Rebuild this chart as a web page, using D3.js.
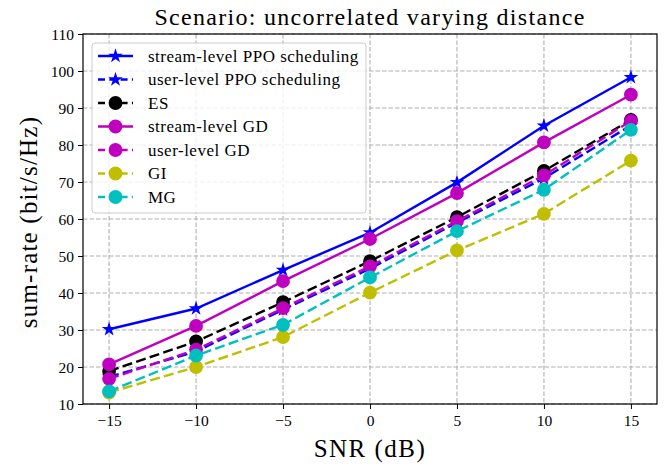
<!DOCTYPE html>
<html>
<head>
<meta charset="utf-8">
<script src="https://cdn.jsdelivr.net/npm/d3@7"></script>
<style>
  body { margin: 0; background: #fff; }
  text { font-family: "Liberation Serif", "DejaVu Serif", serif; }
</style>
</head>
<body>
<div id="chart"></div>
<script>
var snr = [-15, -10, -5, 0, 5, 10, 15];
var streamPPO = [30.2, 35.8, 46.2, 56.3, 69.9, 85.2, 98.3];
var userPPO   = [17.3, 24.2, 35.5, 46.6, 59.0, 71.0, 85.3];
var es        = [18.9, 26.9, 37.5, 48.6, 60.5, 73.0, 86.8];
var streamGD  = [20.7, 31.1, 43.2, 54.6, 67.0, 80.7, 93.6];
var userGD    = [16.8, 24.7, 35.9, 47.2, 59.4, 71.8, 86.5];
var gi        = [13.1, 20.0, 28.1, 40.1, 51.5, 61.4, 75.8];
var mg        = [13.4, 23.1, 31.4, 44.2, 56.7, 67.9, 84.1];
var yTicks = [10, 20, 30, 40, 50, 60, 70, 80, 90, 100, 110];
var xTicks = [-15, -10, -5, 0, 5, 10, 15];

var series = [
  {name: "stream-level PPO scheduling", values: streamPPO, color: "#0000ff", dash: null, marker: "star"},
  {name: "user-level PPO scheduling", values: userPPO, color: "#0000ff", dash: "10,4.3", marker: "star"},
  {name: "ES", values: es, color: "#000000", dash: "10,4.3", marker: "circle"},
  {name: "stream-level GD", values: streamGD, color: "#bf00bf", dash: null, marker: "circle"},
  {name: "user-level GD", values: userGD, color: "#bf00bf", dash: "10,4.3", marker: "circle"},
  {name: "GI", values: gi, color: "#bfbf00", dash: "10,4.3", marker: "circle"},
  {name: "MG", values: mg, color: "#00bfbf", dash: "10,4.3", marker: "circle"}
];

var margin = {top: 34, right: 12, bottom: 63, left: 83},
    width = 669 - margin.left - margin.right,
    height = 467 - margin.top - margin.bottom;

var x = d3.scaleLinear().domain([-16.5, 16.5]).range([0, width]);
var y = d3.scaleLinear().domain([10, 110]).range([height, 0]);

var svg = d3.select("#chart").append("svg")
    .attr("width", 669).attr("height", 467);
var g = svg.append("g")
    .attr("transform", "translate(" + margin.left + "," + margin.top + ")");

// grid
g.append("g").selectAll("line").data(xTicks).enter().append("line")
    .attr("x1", function(d) { return x(d); }).attr("x2", function(d) { return x(d); })
    .attr("y1", 0).attr("y2", height)
    .attr("stroke", "#b0b0b0").attr("stroke-width", 1.1).attr("stroke-dasharray", "4.5,2");
g.append("g").selectAll("line").data(yTicks).enter().append("line")
    .attr("y1", function(d) { return y(d); }).attr("y2", function(d) { return y(d); })
    .attr("x1", 0).attr("x2", width)
    .attr("stroke", "#b0b0b0").attr("stroke-width", 1.1).attr("stroke-dasharray", "4.5,2");

var star = d3.symbol().type(d3.symbolStar).size(66);
var dot = d3.symbol().type(d3.symbolCircle).size(150);

var line = d3.line()
    .x(function(d, i) { return x(snr[i]); })
    .y(function(d) { return y(d); });

series.forEach(function(s) {
  var sg = g.append("g");
  sg.append("path")
      .datum(s.values)
      .attr("d", line)
      .attr("fill", "none")
      .attr("stroke", s.color)
      .attr("stroke-width", 2.4)
      .attr("stroke-dasharray", s.dash);
  sg.selectAll(".m").data(s.values).enter().append("path")
      .attr("transform", function(d, i) { return "translate(" + x(snr[i]) + "," + y(d) + ")"; })
      .attr("d", s.marker == "star" ? star : dot)
      .attr("fill", s.color);
});

// axes
var xAxis = g.append("g")
    .attr("transform", "translate(0," + height + ")")
    .call(d3.axisBottom(x).tickValues(xTicks).tickSizeOuter(0).tickSize(5).tickPadding(6)
      .tickFormat(function(d) { return d < 0 ? "\u2212" + Math.abs(d) : d; }));
var yAxis = g.append("g")
    .call(d3.axisLeft(y).tickValues(yTicks).tickSizeOuter(0).tickSize(5).tickPadding(4));
[xAxis, yAxis].forEach(function(a) {
  a.select(".domain").remove();
  a.selectAll("text").style("font-size", "15.5px").attr("fill", "#000")
    .style("font-family", "'Liberation Serif', serif");
  a.selectAll("line").attr("stroke", "#000").attr("stroke-width", 1);
});
yAxis.selectAll("text").attr("dy", "0.35em");

g.append("rect")
    .attr("width", width).attr("height", height)
    .attr("fill", "none").attr("stroke", "#000").attr("stroke-width", 1.2);

// titles
svg.append("text")
    .attr("x", margin.left + width / 2).attr("y", 25)
    .attr("text-anchor", "middle").style("font-size", "24px")
    .style("letter-spacing", "1.3px")
    .text("Scenario: uncorrelated varying distance");
svg.append("text")
    .attr("x", margin.left + width / 2).attr("y", 457)
    .attr("text-anchor", "middle").style("font-size", "25px")
    .style("letter-spacing", "1.5px")
    .text("SNR (dB)");
svg.append("text")
    .attr("transform", "translate(37," + (margin.top + height / 2 + 3) + ") rotate(-90)")
    .attr("text-anchor", "middle").style("font-size", "25px")
    .style("letter-spacing", "1.2px")
    .text("sum-rate (bit/s/Hz)");

// legend
var lg = g.append("g").attr("transform", "translate(9,9)");
lg.append("rect")
    .attr("width", 274).attr("height", 170).attr("rx", 3)
    .attr("fill", "#fff").attr("fill-opacity", 0.8)
    .attr("stroke", "#cccccc").attr("stroke-width", 1);
series.forEach(function(s, i) {
  var ly = 13 + i * 23.5;
  var row = lg.append("g").attr("transform", "translate(0," + ly + ")");
  row.append("line")
      .attr("x1", 6).attr("x2", 41).attr("y1", 0).attr("y2", 0)
      .attr("stroke", s.color).attr("stroke-width", 2.4)
      .attr("stroke-dasharray", s.dash ? "7,4.3" : null);
  row.append("path")
      .attr("transform", "translate(23.5,0)")
      .attr("d", s.marker == "star" ? star : dot)
      .attr("fill", s.color);
  row.append("text")
      .attr("x", 56).attr("y", 0).attr("dy", "0.33em")
      .style("font-size", "17px").style("letter-spacing", "0.5px")
      .text(s.name);
});
</script>
</body>
</html>
